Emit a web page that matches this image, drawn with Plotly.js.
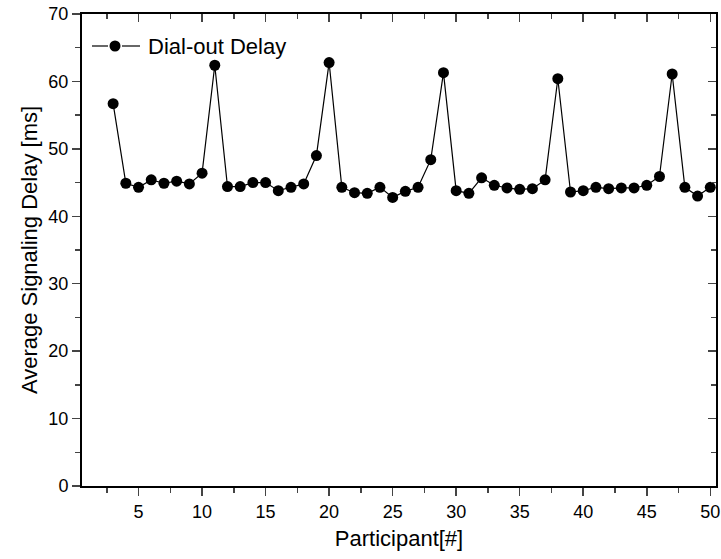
<!DOCTYPE html>
<html>
<head>
<meta charset="utf-8">
<script src="https://cdn.plot.ly/plotly-3.0.1.min.js"></script>
<style>html,body{margin:0;padding:0;background:#fff;}#chart{width:721px;height:559px;}</style>
</head>
<body>
<div id="chart"></div>
<script>
const participants = [3,4,5,6,7,8,9,10,11,12,13,14,15,16,17,18,19,20,21,22,23,24,25,26,27,28,29,30,31,32,33,34,35,36,37,38,39,40,41,42,43,44,45,46,47,48,49,50];
const delay = [56.7,44.9,44.3,45.4,44.9,45.2,44.8,46.4,62.4,44.4,44.4,45.0,45.0,43.8,44.3,44.8,49.0,62.8,44.3,43.5,43.4,44.3,42.8,43.7,44.3,48.4,61.3,43.8,43.4,45.7,44.6,44.2,44.0,44.1,45.4,60.4,43.6,43.8,44.3,44.1,44.2,44.2,44.6,45.9,61.1,44.3,43.0,44.3];
const seriesName = 'Dial-out Delay';
const xTitle = 'Participant[#]';
const yTitle = 'Average Signaling Delay [ms]';

const FONT = 'Arial, "Liberation Sans", sans-serif';
const W = 721, H = 559, ML = 82, MR = 5, MT = 14, MB = 73;
const PW = W - ML - MR, PH = H - MT - MB;
const px = v => (v - ML) / PW;       // pixel -> paper x
const py = v => 1 - (v - MT) / PH;   // pixel -> paper y

const traces = [
  {x: participants, y: delay, name: seriesName, type: 'scatter', mode: 'lines+markers',
   line: {color: '#000', width: 1.2}, marker: {color: '#000', size: 11, symbol: 'circle'}, showlegend: false},
  {x: [participants[0]], y: [delay[0]], xaxis: 'x2', yaxis: 'y2', mode: 'markers',
   marker: {opacity: 0}, showlegend: false, hoverinfo: 'skip'}
];
const xr = [0.55, 50.45], yr = [0, 70];
const legY = py(46);
const layout = {
  width: W, height: H,
  margin: {l: ML, r: MR, t: MT, b: MB},
  paper_bgcolor: '#fff', plot_bgcolor: '#fff',
  font: {family: FONT, color: '#000', size: 18},
  showlegend: false,
  shapes: [
    {type: 'line', xref: 'paper', yref: 'paper', x0: px(92), x1: px(108), y0: legY, y1: legY, line: {color: '#000', width: 1.2}},
    {type: 'line', xref: 'paper', yref: 'paper', x0: px(122), x1: px(140), y0: legY, y1: legY, line: {color: '#000', width: 1.2}},
    {type: 'circle', xref: 'paper', yref: 'paper', xsizemode: 'pixel', ysizemode: 'pixel',
     xanchor: px(115), yanchor: legY, x0: -5.5, x1: 5.5, y0: -5.5, y1: 5.5,
     fillcolor: '#000', line: {color: '#000', width: 0}}
  ],
  annotations: [
    {text: seriesName, xref: 'paper', yref: 'paper', x: px(146), y: legY, xanchor: 'left', yanchor: 'middle',
     showarrow: false, font: {family: FONT, size: 22, color: '#000'}}
  ],
  xaxis: {range: xr, tick0: 0, dtick: 5, ticks: 'outside', ticklen: 8, tickwidth: 1.5,
    minor: {dtick: 2.5, ticks: 'outside', ticklen: 5, tickwidth: 1.5},
    showline: true, linewidth: 2, linecolor: '#000', showgrid: false, zeroline: false,
    tickfont: {size: 18}, title: {text: xTitle, font: {size: 22}, standoff: 10}},
  yaxis: {range: yr, dtick: 10, ticks: 'outside', ticklen: 8, tickwidth: 1.5,
    minor: {dtick: 5, ticks: 'outside', ticklen: 5, tickwidth: 1.5},
    showline: true, linewidth: 2, linecolor: '#000', showgrid: false, zeroline: false,
    tickfont: {size: 18}, title: {text: yTitle, font: {size: 22}, standoff: 5}},
  xaxis2: {overlaying: 'x', side: 'top', anchor: 'y2', range: xr, tick0: 0, dtick: 5,
    ticks: 'inside', ticklen: 8, tickwidth: 1.5,
    minor: {dtick: 2.5, ticks: 'inside', ticklen: 5, tickwidth: 1.5},
    showticklabels: false, showline: true, linewidth: 2, linecolor: '#000', showgrid: false, zeroline: false},
  yaxis2: {overlaying: 'y', side: 'right', anchor: 'x2', range: yr, dtick: 10,
    ticks: 'inside', ticklen: 8, tickwidth: 1.5,
    minor: {dtick: 5, ticks: 'inside', ticklen: 5, tickwidth: 1.5},
    showticklabels: false, showline: true, linewidth: 2, linecolor: '#000', showgrid: false, zeroline: false}
};
Plotly.newPlot('chart', traces, layout, {displayModeBar: false, staticPlot: true});
</script>
</body>
</html>
